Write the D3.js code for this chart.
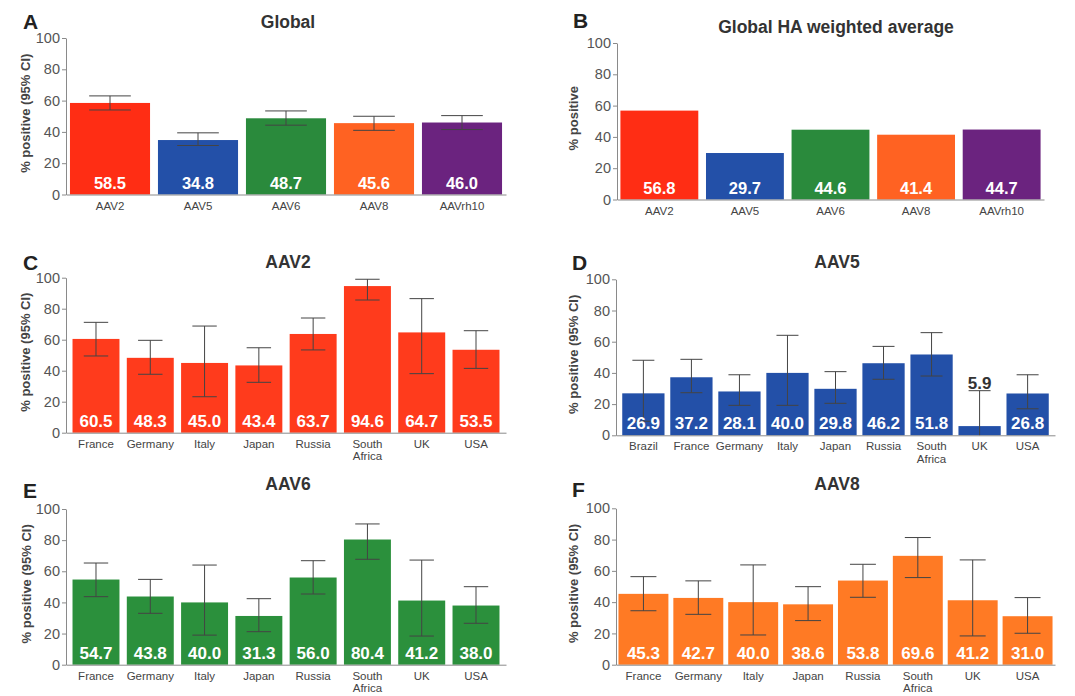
<!DOCTYPE html>
<html>
<head>
<meta charset="utf-8">
<script src="https://cdn.jsdelivr.net/npm/d3@7"></script>
<style>
  body { margin: 0; background: #fff; }
  svg { font-family: "Liberation Sans", Arial, sans-serif; }
</style>
</head>
<body>
<div id="chart"></div>
<script>
// Values
var serotypes = ["AAV2", "AAV5", "AAV6", "AAV8", "AAVrh10"];
var globalVals = [58.5, 34.8, 48.7, 45.6, 46.0];
var globalLo = [54.0, 31.3, 44.3, 41.0, 41.5];
var globalHi = [63.0, 39.4, 53.4, 50.0, 50.4];
var weightedVals = [56.8, 29.7, 44.6, 41.4, 44.7];

var countries8 = ["France", "Germany", "Italy", "Japan", "Russia", "South Africa", "UK", "USA"];
var countries9 = ["Brazil", "France", "Germany", "Italy", "Japan", "Russia", "South Africa", "UK", "USA"];

var aav2Vals = [60.5, 48.3, 45.0, 43.4, 63.7, 94.6, 64.7, 53.5];
var aav2Lo = [49.5, 37.7, 23.2, 32.5, 53.4, 85.6, 38.1, 41.5];
var aav2Hi = [71.2, 59.6, 68.8, 54.8, 74.0, 99.0, 86.5, 65.8];

var aav5Vals = [26.9, 37.2, 28.1, 40.0, 29.8, 46.2, 51.8, 5.9, 26.8];
var aav5Lo = [9.0, 27.3, 19.2, 19.2, 20.5, 35.9, 38.0, 0.0, 17.0];
var aav5Hi = [48.1, 48.7, 38.8, 64.1, 40.8, 57.0, 65.8, 28.6, 38.8];

var aav6Vals = [54.7, 43.8, 40.0, 31.3, 56.0, 80.4, 41.2, 38.0];
var aav6Lo = [43.7, 33.0, 19.0, 21.2, 45.4, 67.7, 18.4, 26.6];
var aav6Hi = [65.3, 54.8, 64.0, 42.4, 66.8, 90.4, 67.2, 50.1];

var aav8Vals = [45.3, 42.7, 40.0, 38.6, 53.8, 69.6, 41.2, 31.0];
var aav8Lo = [34.5, 32.2, 19.0, 28.2, 43.1, 55.7, 18.4, 20.1];
var aav8Hi = [56.3, 53.6, 63.8, 49.9, 64.2, 81.3, 67.0, 42.9];

var yTicks = [0, 20, 40, 60, 80, 100];

var svg = d3.select("#chart")
  .append("svg")
  .attr("width", 1075)
  .attr("height", 696);

// draw one panel
function drawPanel(p) {
  var g = svg.append("g");

  var x = d3.scaleBand()
    .domain(p.cats)
    .range([p.x0, p.x1])
    .paddingInner(p.pi)
    .paddingOuter(p.po);

  var y = d3.scaleLinear()
    .domain([0, 100])
    .range([p.yBot, p.yTop]);

  var rows = p.cats.map(function(c, i) {
    return {
      cat: c,
      val: p.vals[i],
      lo: p.lo ? p.lo[i] : null,
      hi: p.hi ? p.hi[i] : null,
      color: Array.isArray(p.color) ? p.color[i] : p.color
    };
  });

  // bars
  g.selectAll("rect.bar")
    .data(rows)
    .enter()
    .append("rect")
    .attr("class", "bar")
    .attr("x", d => x(d.cat))
    .attr("y", d => y(d.val))
    .attr("width", x.bandwidth())
    .attr("height", d => y(0) - y(d.val))
    .attr("fill", d => d.color);

  // error bars
  if (p.lo) {
    var capW = x.bandwidth() * 0.52;
    var eb = g.selectAll("g.err")
      .data(rows)
      .enter()
      .append("g")
      .attr("class", "err")
      .attr("stroke", "#444")
      .attr("stroke-width", 1);
    eb.append("line")
      .attr("x1", d => x(d.cat) + x.bandwidth() / 2)
      .attr("x2", d => x(d.cat) + x.bandwidth() / 2)
      .attr("y1", d => y(d.lo))
      .attr("y2", d => y(d.hi));
    eb.append("line")
      .attr("x1", d => x(d.cat) + x.bandwidth() / 2 - capW / 2)
      .attr("x2", d => x(d.cat) + x.bandwidth() / 2 + capW / 2)
      .attr("y1", d => y(d.hi))
      .attr("y2", d => y(d.hi));
    eb.filter(d => d.lo > 0)
      .append("line")
      .attr("x1", d => x(d.cat) + x.bandwidth() / 2 - capW / 2)
      .attr("x2", d => x(d.cat) + x.bandwidth() / 2 + capW / 2)
      .attr("y1", d => y(d.lo))
      .attr("y2", d => y(d.lo));
  }

  // value labels; small bars get the label above the whisker
  g.selectAll("text.val")
    .data(rows)
    .enter()
    .append("text")
    .attr("class", "val")
    .attr("x", d => x(d.cat) + x.bandwidth() / 2)
    .attr("y", d => d.val < 10 ? y(d.hi != null ? d.hi : d.val) - 2 : y(0) - 6)
    .attr("text-anchor", "middle")
    .attr("font-weight", "bold")
    .style("font-size", p.valSize + "px")
    .attr("fill", d => d.val < 10 ? "#333" : "#fff")
    .text(d => d.val.toFixed(1));

  // axes
  var leftAxis = d3.axisLeft(y).tickValues(yTicks).tickSize(4).tickSizeOuter(0).tickPadding(2);
  var yAxis = g.append("g")
    .attr("transform", `translate(${p.x0}, 0)`)
    .call(leftAxis);
  yAxis.select(".domain").attr("stroke", "#8a8a8a");
  yAxis.selectAll(".tick line").attr("stroke", "#8a8a8a");
  yAxis.selectAll(".tick text")
    .attr("fill", "#555")
    .style("font-size", "14.5px");

  var bottomAxis = d3.axisBottom(x).tickSize(0).tickSizeOuter(0).tickPadding(7);
  var xAxis = g.append("g")
    .attr("transform", `translate(0, ${p.yBot})`)
    .call(bottomAxis);
  xAxis.select(".domain").attr("stroke", "#8a8a8a");
  xAxis.selectAll(".tick text")
    .attr("fill", "#444")
    .style("font-size", "11.5px")
    .each(function(d) {
      var parts = d.split(" ");
      if (parts.length > 1) {
        var t = d3.select(this).text(null);
        parts.forEach(function(w, k) {
          t.append("tspan")
            .attr("x", 0)
            .attr("dy", k === 0 ? "0.71em" : "1.05em")
            .text(w);
        });
      }
    });

  // y label
  g.append("text")
    .attr("transform", `translate(${p.labX}, ${(p.yTop + p.yBot) / 2 - 3}) rotate(-90)`)
    .attr("text-anchor", "middle")
    .attr("font-weight", "bold")
    .attr("fill", "#444")
    .style("font-size", "13px")
    .text(p.yLabel);

  // title
  g.append("text")
    .attr("x", p.titleX)
    .attr("y", p.titleY)
    .attr("text-anchor", "middle")
    .attr("font-weight", "bold")
    .attr("fill", "#333")
    .style("font-size", "17.5px")
    .text(p.title);

  // panel letter
  g.append("text")
    .attr("x", p.letterX)
    .attr("y", p.letterY)
    .attr("font-weight", "bold")
    .attr("fill", "#222")
    .style("font-size", "21px")
    .text(p.letter);
}

var globalColors = ["#ff2d14", "#2350a8", "#2a8a3c", "#ff6222", "#6b237f"];

drawPanel({
  letter: "A", title: "Global", yLabel: "% positive (95% CI)",
  cats: serotypes, vals: globalVals, lo: globalLo, hi: globalHi, color: globalColors,
  x0: 66, x1: 506, yTop: 38, yBot: 194.5, pi: 0.09, po: 0.045, valSize: 16.5,
  labX: 30, titleX: 288, titleY: 28, letterX: 23, letterY: 29
});

drawPanel({
  letter: "B", title: "Global HA weighted average", yLabel: "% positive",
  cats: serotypes, vals: weightedVals, color: globalColors,
  x0: 617, x1: 1044, yTop: 43, yBot: 199.5, pi: 0.09, po: 0.04, valSize: 16.5,
  labX: 578, titleX: 836, titleY: 33, letterX: 573, letterY: 28
});

drawPanel({
  letter: "C", title: "AAV2", yLabel: "% positive (95% CI)",
  cats: countries8, vals: aav2Vals, lo: aav2Lo, hi: aav2Hi, color: "#ff3b1c",
  x0: 66, x1: 506, yTop: 277.7, yBot: 432.7, pi: 0.135, po: 0.12, valSize: 17,
  labX: 30, titleX: 288, titleY: 268, letterX: 23, letterY: 270
});

drawPanel({
  letter: "D", title: "AAV5", yLabel: "% positive (95% CI)",
  cats: countries9, vals: aav5Vals, lo: aav5Lo, hi: aav5Hi, color: "#2350a8",
  x0: 616, x1: 1055, yTop: 279.3, yBot: 435.3, pi: 0.12, po: 0.13, valSize: 17,
  labX: 578, titleX: 837, titleY: 268, letterX: 572, letterY: 270
});

drawPanel({
  letter: "E", title: "AAV6", yLabel: "% positive (95% CI)",
  cats: countries8, vals: aav6Vals, lo: aav6Lo, hi: aav6Hi, color: "#2b903c",
  x0: 66, x1: 506, yTop: 509, yBot: 664.7, pi: 0.135, po: 0.12, valSize: 17,
  labX: 31, titleX: 288, titleY: 490, letterX: 23, letterY: 498
});

drawPanel({
  letter: "F", title: "AAV8", yLabel: "% positive (95% CI)",
  cats: countries8, vals: aav8Vals, lo: aav8Lo, hi: aav8Hi, color: "#ff7a24",
  x0: 616, x1: 1055, yTop: 508.3, yBot: 664.7, pi: 0.09, po: 0.045, valSize: 17,
  labX: 578, titleX: 837, titleY: 490, letterX: 572, letterY: 497
});
</script>
</body>
</html>
